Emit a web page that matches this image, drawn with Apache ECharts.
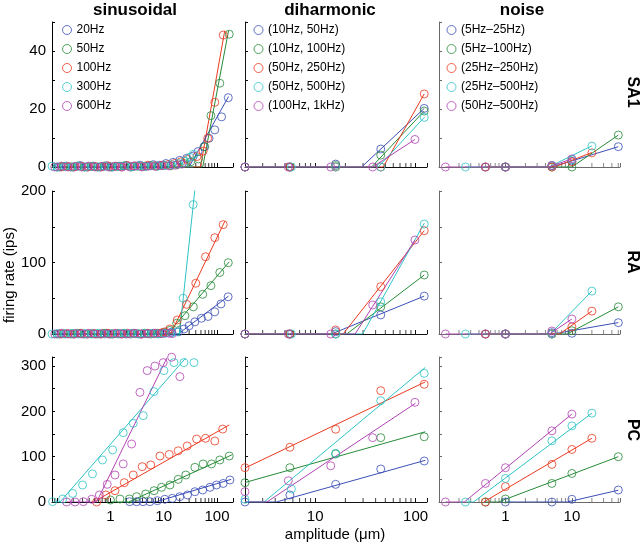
<!DOCTYPE html>
<html><head><meta charset="utf-8">
<script src="https://cdn.jsdelivr.net/npm/echarts@6/dist/echarts.min.js"></script>
<style>html,body{margin:0;padding:0;background:#fff}#c{width:640px;height:546px}</style>
</head><body><div id="c"></div>
<script>
// ---------- labels ----------
const colTitles = ['sinusoidal', 'diharmonic', 'noise'];
const rowNames = ['SA1', 'RA', 'PC'];
const sinLabels = ['20Hz', '50Hz', '100Hz', '300Hz', '600Hz'];
const dihLabels = ['(10Hz, 50Hz)', '(10Hz, 100Hz)', '(50Hz, 250Hz)', '(50Hz, 500Hz)', '(100Hz, 1kHz)'];
const noiseLabels = ['(5Hz\u201325Hz)', '(5Hz\u2013100Hz)', '(25Hz\u2013250Hz)', '(25Hz\u2013500Hz)', '(50Hz\u2013500Hz)'];
const xTickLabels = [[1, 10, 100], [10, 100], [1, 10]];
const yTickLabels = [[0, 20, 40], [0, 100, 200], [0, 100, 200, 300]];
const yAxisName = 'firing rate (ips)';
const xAxisName = 'amplitude (\u03bcm)';

// ---------- data: [amplitude (um), firing rate (ips)] ----------
const sinSA1Pts = [
  [[0.11,0],[0.15,0.3],[0.2,0],[0.27,0.5],[0.36,0],[0.48,0.3],[0.64,0],[0.85,0.4],[1.1,0],[1.5,0.3],[2,0.5],[2.7,0.2],[3.6,0.6],[4.8,0.3],[6.4,0.8],[8.5,0.6],[11,1.2],[15,1.6],[20,2.3],[27,3],[36,3.8],[44,5.3],[57,7],[71,9.9],[91,12.8],[122,17.3],[163,23.9]],
  [[0.1,0],[0.13,0.2],[0.18,0],[0.24,0.3],[0.32,0],[0.43,0.2],[0.57,0],[0.76,0.3],[1,0],[1.35,0.2],[1.8,0.4],[2.4,0],[3.2,0.3],[4.3,0.2],[5.7,0.5],[7.6,0.3],[10,0.6],[13.5,0.4],[18,0.8],[24,1.2],[32,1.8],[45,2.8],[59,7],[77,17.7],[113,28.9],[170,45.8]],
  [[0.12,0],[0.16,0.2],[0.21,0],[0.28,0.3],[0.38,0],[0.5,0.2],[0.67,0],[0.9,0.4],[1.2,0.2],[1.6,0],[2.1,0.5],[2.8,0.3],[3.8,0.2],[5,0.6],[6.7,0.4],[9,0.5],[12,0.8],[16,1.2],[21,1.8],[28,2.6],[42,3.6],[55,5.5],[67,9.9],[91,22.3],[131,45.5]],
  [[0.08,0.3],[0.1,0],[0.14,0.2],[0.19,0],[0.25,0.3],[0.33,0],[0.44,0.2],[0.59,0],[0.78,0.3],[1.05,0],[1.4,0.2],[1.85,0.4],[2.5,0],[3.3,0.3],[4.4,0.2],[5.9,0.4],[7.8,0.3],[10.5,0.5],[14,0.8],[19,1.2],[25,2],[31,3.4],[36,4.4]],
  [[0.09,0],[0.12,0.3],[0.16,0],[0.22,0.2],[0.29,0],[0.39,0.3],[0.52,0],[0.7,0.2],[0.93,0],[1.25,0.3],[1.65,0],[2.2,0.2],[2.9,0.4],[3.9,0],[5.2,0.3],[7,0.2],[9.3,0.5],[12.5,0.4],[16.5,0.6],[22,1]]
];
const sinSA1Fit = [
  [[0.11,0],[30,0],[165,24.3]],
  [[0.1,0],[54,0],[165,47]],
  [[0.12,0],[49,0],[140,47]],
  [[0.08,0],[36,0]],
  [[0.09,0],[22,0]]
];
const sinRAPts = [
  [[0.11,0],[0.15,0.5],[0.2,0],[0.27,1],[0.36,0],[0.48,0.5],[0.64,0],[0.85,1],[1.1,0],[1.5,0.5],[2,0],[2.7,1],[3.6,0],[4.8,0.5],[6.4,1],[8.5,0.5],[11,1.5],[14,2.5],[19,3],[24,7],[30,11.5],[38.5,17],[51,22],[68,24.5],[91,31],[119,42],[162,52]],
  [[0.1,0],[0.13,0.5],[0.18,0],[0.24,1],[0.32,0],[0.43,0.5],[0.57,0],[0.76,1],[1,0],[1.35,0.5],[1.8,1],[2.4,0],[3.2,0.5],[4.3,1],[5.7,0],[7.6,1],[10,2],[13,5],[17.5,15],[25,25.6],[36,38],[54,55.5],[77,67.6],[113,86],[163,99.7]],
  [[0.12,0],[0.16,0.5],[0.21,0],[0.28,1],[0.38,0],[0.5,0.5],[0.67,0],[0.9,1],[1.2,0.5],[1.6,0],[2.1,1],[2.8,0.5],[3.8,0],[5,1],[6.7,0.5],[9,1.5],[10.5,3],[13,7],[18,19.6],[27,41.5],[40,71],[61,108],[91,134.7],[131,153]],
  [[0.08,0],[0.1,0.5],[0.14,0],[0.19,1],[0.25,0],[0.33,0.5],[0.44,0],[0.59,1],[0.78,0],[1.05,0.5],[1.4,0],[1.85,1],[2.5,0.5],[3.3,0],[4.4,1],[5.9,0.5],[7.8,0],[10.5,1],[14,1.5],[17.5,3],[23.2,50],[35.8,181]],
  [[0.09,0],[0.12,1],[0.16,0],[0.22,0.5],[0.29,0],[0.39,1],[0.52,0],[0.7,0.5],[0.93,0],[1.25,1],[1.65,0],[2.2,0.5],[2.9,1],[3.9,0],[5.2,0.5],[7,1],[9.3,0.5],[12.5,1],[14.5,0.5]]
];
const sinRAFit = [
  [[0.11,0],[18.7,0],[165,53]],
  [[0.1,0],[11.8,0],[170,101]],
  [[0.12,0],[13.5,0],[141,158]],
  [[0.08,0],[19.7,0],[38.5,202]],
  [[0.09,0],[14.5,0]]
];
const sinPCPts = [
  [[2.3,0.7],[3.1,0.7],[4.1,0.7],[5.5,0.7],[7.6,2.9],[10.5,6],[14.5,8],[20,11.7],[28,15.5],[38.5,22.7],[54,26.5],[74,32.4],[98,37.5],[131,41],[175,48.6]],
  [[1,4.4],[1.51,6.6],[2.26,6.6],[3.1,11.8],[4.6,17.7],[6.6,25],[9.1,32.4],[13.1,37.5],[18.7,50],[26,59.6],[38.5,76.5],[55,84],[79,84],[113,92.7],[170,101.5]],
  [[0.55,0],[0.82,15.5],[1.22,25],[1.82,42.6],[2.68,59.6],[3.95,78],[5.7,81.7],[8.5,101.5],[12.7,105],[18.7,113],[27.6,123.6],[41.5,139],[61,140.6],[91,134.6],[128,161]],
  [[0.082,0.7],[0.127,6.6],[0.195,19],[0.3,37.5],[0.46,62],[0.71,92.7],[1.1,115],[1.74,153],[2.68,173.7],[4.13,190.6],[6.56,243.6],[10.1,290],[15.6,307.6],[24,307.6],[37,307.6]],
  [[0.151,0],[0.216,0],[0.31,0.7],[0.445,6],[0.62,15.5],[0.87,39],[1.22,59.6],[1.74,84],[2.5,128],[3.58,242],[4.9,290],[6.84,300],[9.8,307.6],[14.1,319.5],[20.1,276.6]]
];
const sinPCFit = [
  [[2.3,0],[7,0],[185,50]],
  [[1,0],[2.2,0],[190,104]],
  [[0.48,0],[170,170]],
  [[0.08,0],[0.113,0],[26,318]],
  [[0.15,0],[0.55,0],[11.5,318]]
];

const dihSA1Pts = [
  [[2,0],[5.6,0],[16,1],[45,6.2],[122,20.2]],
  [[2,0],[5.6,0],[16,0.5],[45,4.1],[122,19.3]],
  [[2,0],[5.6,0],[16,0],[45,0],[122,25.2]],
  [[2,0],[5.8,0],[16,0],[45,0],[122,17.1]],
  [[2,0],[5.4,0],[14.3,0],[37.4,0],[98.6,9.5]]
];
const dihSA1Fit = [
  [[2,0],[29,0],[122,20.2]],
  [[2,0],[36.5,0],[122,19.3]],
  [[2,0],[47.6,0],[122,25.2]],
  [[2,0],[42.5,0],[122,17.1]],
  [[2,0],[37.4,0],[98.6,9.5]]
];
const dihRAPts = [
  [[2,0],[5.6,0],[16,3.3],[45,26.6],[122,53]],
  [[2,0],[5.6,0],[16,0],[45,38],[122,82.5]],
  [[2,0],[5.6,0],[16,5.6],[45,66.2],[122,144.5]],
  [[2,0],[5.8,0],[16,0],[45,45],[122,153.8]],
  [[2,0],[5.4,0],[14.3,0],[37.4,40.6],[98.6,131.5]]
];
const dihRAFit = [
  [[2,0],[14.5,0],[122,53]],
  [[2,0],[20.6,0],[122,82.5]],
  [[2,0],[19,0],[122,144.5]],
  [[2,0],[29.7,0],[122,155]],
  [[2,0],[25,0],[98.6,131.5]]
];
const dihPCPts = [
  [[2,0],[5.6,15.5],[16,39],[45,72.8],[122,90.5]],
  [[2,42.6],[5.6,75.7],[16,106],[45,142],[122,144]],
  [[2,75.7],[5.6,120.7],[16,160.5],[45,245.7],[122,259.8]],
  [[2,6],[5.8,28.7],[16,107.5],[45,223.6],[122,284]],
  [[2,22.8],[5.4,47],[14.3,80],[37.4,142],[98.6,220]]
];
const dihPCFit = [
  [[2,0],[4.1,0],[125,92]],
  [[2,43],[125,155]],
  [[2,75],[125,265]],
  [[2,0],[3.1,0],[125,297]],
  [[2,0],[3.3,0],[100,218]]
];

const noiseSA1Pts = [
  [[1,0],[5,0.5],[10,2],[50,7]],
  [[0.5,0],[1,0],[5,0],[10,0],[50,11]],
  [[0.5,0],[1,0],[5,0],[10,1.8],[20,4.9]],
  [[0.25,0],[1,0],[5,0.5],[10,2.5],[20,7.2]],
  [[0.125,0],[0.5,0],[1,0],[5,0.5],[10,2.8]]
];
const noiseSA1Fit = [
  [[1,0],[5,0],[50,7]],
  [[0.5,0],[10,0],[50,11]],
  [[0.5,0],[5.5,0],[20,5]],
  [[0.25,0],[4.5,0],[20,7.3]],
  [[0.125,0],[4.5,0],[10,2.8]]
];
const noiseRAPts = [
  [[1,0],[5,1.8],[10,1],[50,15.8]],
  [[0.5,0],[1,0],[5,0],[10,4.6],[50,38]],
  [[0.5,0],[1,0],[5,0],[10,10],[20,32]],
  [[0.25,0],[1,0],[5,0],[20,60]],
  [[0.125,0],[0.5,0],[1,0],[5,4.2],[10,21]]
];
const noiseRAFit = [
  [[1,0],[5.2,0],[50,16]],
  [[0.5,0],[8.5,0],[50,38]],
  [[0.5,0],[6.5,0],[20,32]],
  [[0.25,0],[4.7,0],[20,60]],
  [[0.125,0],[4.6,0],[10,21]]
];
const noisePCPts = [
  [[1,0],[5,0],[10,6],[50,26.5]],
  [[0.5,0],[1,6.6],[5,41],[10,63],[50,100]],
  [[0.5,0],[1,34],[5,83],[10,116],[20,140.6]],
  [[0.25,0],[1,52],[5,135],[10,168],[20,196]],
  [[0.125,0],[0.5,41],[1,75.7],[5,157],[10,194]]
];
const noisePCFit = [
  [[1,0],[8.5,0],[50,26]],
  [[0.5,0],[0.78,0],[50,100]],
  [[0.47,0],[20,140.6]],
  [[0.25,0],[0.33,0],[20,196]],
  [[0.125,0],[0.24,0],[10,194]]
];

// ---------- layout & style ----------
const FONT = 'Liberation Sans, Arial, Helvetica, sans-serif';
const colors = ['#3b4fb6', '#268a37', '#ea3a20', '#2ec3c6', '#b043b3'];
const colBox = [{left: 52, width: 181}, {left: 245, width: 182}, {left: 439, width: 181}];
const rowBox = [{top: 22, height: 145}, {top: 191, height: 143}, {top: 357, height: 145}];
const xRange = [[0.08, 200], [2, 130], [0.1, 53]];
const yRange = [[50, 10], [200, 50], [320, 50]];
const axisColor = ['#000', '#111', '#6a6a6a'];
const colLabelSets = [sinLabels, dihLabels, noiseLabels];
const panelPts = [[sinSA1Pts, sinRAPts, sinPCPts], [dihSA1Pts, dihRAPts, dihPCPts], [noiseSA1Pts, noiseRAPts, noisePCPts]];
const panelFit = [[sinSA1Fit, sinRAFit, sinPCFit], [dihSA1Fit, dihRAFit, dihPCFit], [noiseSA1Fit, noiseRAFit, noisePCFit]];

function pick(list, v) {
  for (const l of list) { if (Math.abs(v - l) <= Math.abs(l) * 1e-6 + 1e-9) return String(l); }
  return '';
}
function minorTicks(min, max) {
  const out = [];
  for (let k = Math.floor(Math.log10(min)); k <= Math.ceil(Math.log10(max)); k++) {
    for (let m = 2; m <= 9; m++) {
      const v = m * Math.pow(10, k);
      if (v > min && v < max) out.push([v, 0]);
    }
  }
  return out;
}

const grid = [], xAxis = [], yAxis = [], series = [];
for (let r = 0; r < 3; r++) {
  for (let c = 0; c < 3; c++) {
    const idx = r * 3 + c;
    grid.push({left: colBox[c].left, width: colBox[c].width, top: rowBox[r].top, height: rowBox[r].height, outerBoundsMode: 'none', containLabel: false});
    xAxis.push({
      type: 'log', logBase: 10, gridIndex: idx, min: xRange[c][0], max: xRange[c][1],
      axisLine: {show: true, onZero: false, lineStyle: {color: axisColor[c], width: 1}},
      axisTick: {show: true, inside: true, length: 4, lineStyle: {color: axisColor[c], width: 1}},
      axisLabel: {show: r === 2, fontSize: 15, color: '#000', fontFamily: FONT, margin: 7,
        showMinLabel: true, showMaxLabel: true, hideOverlap: false,
        formatter: (v) => pick(xTickLabels[c], v)},
      splitLine: {show: false}, minorTick: {show: false}, minorSplitLine: {show: false}
    });
    yAxis.push({
      type: 'value', gridIndex: idx, min: 0, max: yRange[r][0], interval: yRange[r][1],
      axisLine: {show: true, lineStyle: {color: axisColor[c], width: 1}},
      axisTick: {show: true, inside: true, length: 3, lineStyle: {color: axisColor[c], width: 1}},
      axisLabel: {show: c === 0, fontSize: 15, color: '#000', fontFamily: FONT, margin: 6,
        showMinLabel: true, showMaxLabel: true, hideOverlap: false,
        formatter: (v) => pick(yTickLabels[r], v)},
      splitLine: {show: false}
    });
    series.push({
      type: 'scatter', name: 'minor-' + idx, xAxisIndex: idx, yAxisIndex: idx,
      data: minorTicks(xRange[c][0], xRange[c][1]), symbol: 'rect', symbolSize: [1, 4], symbolOffset: [0, -2],
      itemStyle: {color: axisColor[c]}, silent: true, clip: false, z: 1, animation: false
    });
    const pts = panelPts[c][r], fit = panelFit[c][r];
    for (let s = 0; s < 5; s++) {
      series.push({
        type: 'line', name: colLabelSets[c][s] + ' fit', xAxisIndex: idx, yAxisIndex: idx,
        data: fit[s], symbol: 'none', showSymbol: false, clip: true, silent: true, z: 2,
        lineStyle: {color: colors[s], width: 1}, itemStyle: {color: colors[s]}, animation: false
      });
      series.push({
        type: 'scatter', name: colLabelSets[c][s], xAxisIndex: idx, yAxisIndex: idx,
        data: pts[s], symbol: 'circle', symbolSize: 8, clip: false, silent: true, z: 3,
        itemStyle: {color: 'transparent', borderColor: colors[s], borderWidth: 1}, animation: false
      });
    }
  }
}

const legendLeft = [62, 253.5, 446.5];
const legend = colLabelSets.map((labels, c) => ({
  data: labels, orient: 'vertical', left: legendLeft[c], top: 24, padding: 0,
  itemWidth: 9, itemHeight: 9, itemGap: 7, icon: 'circle', selectedMode: false,
  itemStyle: {color: 'transparent', borderColor: 'inherit', borderWidth: 1},
  textStyle: {fontSize: 12, color: '#000', fontFamily: FONT, lineHeight: 12, padding: [0, 0, 0, 0]}
}));

const titleX = [135, 330, 522];
const rowLabelY = [92, 262, 430];
const graphic = [];
colTitles.forEach((t, c) => graphic.push({type: 'text', x: titleX[c], y: 10,
  style: {text: t, align: 'center', verticalAlign: 'middle', fontSize: 17, fontWeight: 'bold', fontFamily: FONT, fill: '#000'}}));
rowNames.forEach((t, r) => graphic.push({type: 'text', x: 632, y: rowLabelY[r], rotation: -Math.PI / 2,
  style: {text: t, align: 'center', verticalAlign: 'middle', fontSize: 16, fontWeight: 'bold', fontFamily: FONT, fill: '#000'}}));
graphic.push({type: 'text', x: 10, y: 275, rotation: Math.PI / 2,
  style: {text: yAxisName, align: 'center', verticalAlign: 'middle', fontSize: 15, fontFamily: FONT, fill: '#000'}});
graphic.push({type: 'text', x: 335, y: 535,
  style: {text: xAxisName, align: 'center', verticalAlign: 'middle', fontSize: 15, fontFamily: FONT, fill: '#000'}});

const chart = echarts.init(document.getElementById('c'), null, {renderer: 'canvas'});
chart.setOption({
  animation: false, backgroundColor: '#fff',
  grid, xAxis, yAxis, series, legend, graphic
});
</script>
</body></html>
